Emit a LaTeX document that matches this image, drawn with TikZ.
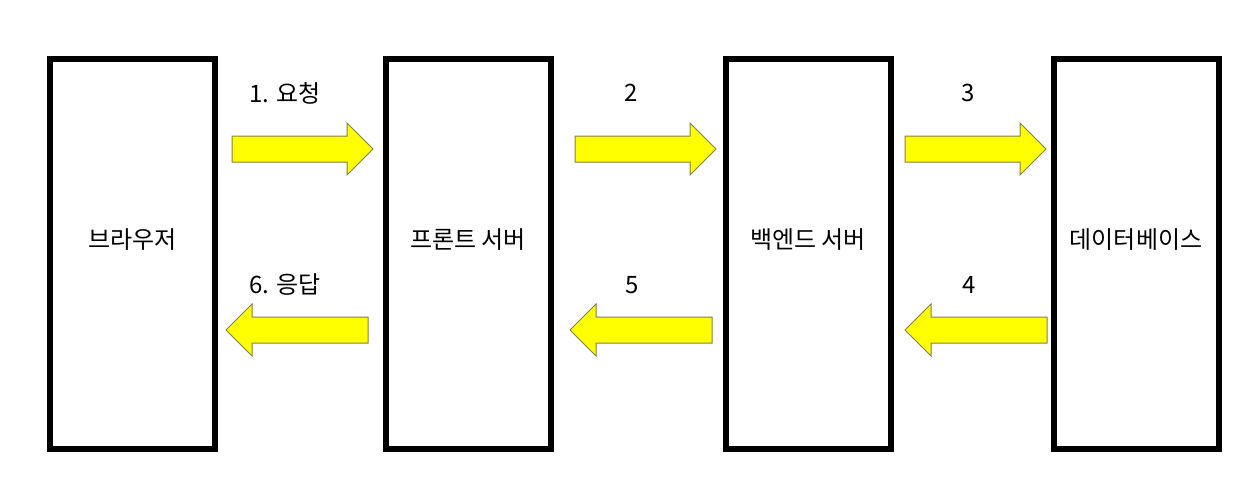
\documentclass[tikz,border=0pt]{standalone}
\usepackage{fontspec}
\setmainfont{Noto Sans CJK KR}
\definecolor{arrowfill}{RGB}{255,255,0}
\definecolor{arrowline}{RGB}{128,128,80}
\begin{document}
\begin{tikzpicture}[x=1pt,y=-1pt,
  boxstyle/.style={draw=black, line width=6pt, minimum width=165pt, minimum height=390pt, inner sep=0pt, fill=white},
  txt/.style={font=\fontsize{24}{27}\selectfont, inner sep=0pt},
  blk/.style={fill=arrowfill, draw=arrowline, line width=1pt, line join=miter},
  rarrow/.pic={\draw[blk] (0,-13)--(115,-13)--(115,-26)--(141,0)--(115,26)--(115,13)--(0,13)--cycle;},
  larrow/.pic={\draw[blk] (0,0)--(26,-26)--(26,-13)--(142,-13)--(142,13)--(26,13)--(26,26)--cycle;}
]
\useasboundingbox (0,0) rectangle (1240,490);
\fill[white] (0,0) rectangle (1240,490);

\node[boxstyle] (b1) at (132.5,254) {};
\node[boxstyle] (b2) at (468,254) {};
\node[boxstyle] (b3) at (808,254) {};
\node[boxstyle] (b4) at (1136,254) {};

\node[txt] (t1) at ([yshift=14pt]b1.center) {브라우저};
\node[txt] (t2) at ([yshift=14pt]b2.center) {프론트 서버};
\node[txt] (t3) at ([yshift=14pt]b3.center) {백엔드 서버};
\node[txt] (t4) at ([yshift=14pt]b4.center) {데이터베이스};

\pic at (232,149) {rarrow};
\pic at (575,149) {rarrow};
\pic at (905,149) {rarrow};
\pic at (226,330) {larrow};
\pic at (570,330) {larrow};
\pic at (905,330) {larrow};

\node[txt] (l1) at (285,93) {1. 요청};
\node[txt] (l2) at (631,93) {2};
\node[txt] (l3) at (968,93) {3};
\node[txt] (l6) at (285,285) {6. 응답};
\node[txt] (l5) at (632,285) {5};
\node[txt] (l4) at (969,285) {4};
\end{tikzpicture}
\end{document}
